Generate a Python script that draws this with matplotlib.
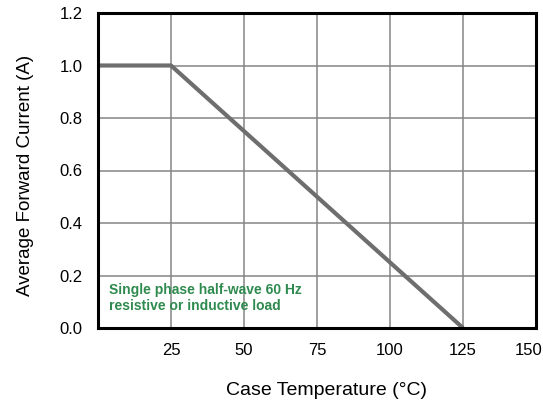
import numpy as np
import matplotlib.pyplot as plt
from matplotlib.transforms import ScaledTranslation

plt.rcParams['font.family'] = ['Liberation Sans', 'DejaVu Sans']

# curva de derating
temp = [0, 25, 125]
current = [1.0, 1.0, 0.0]

x_ticks = [25, 50, 75, 100, 125, 150]
y_ticks = [0.0, 0.2, 0.4, 0.6, 0.8, 1.0, 1.2]

fig = plt.figure(figsize=(5.43, 4.07), dpi=100)
ax = fig.add_axes([98 / 543, 79 / 407, 438 / 543, 315 / 407])

ax.plot(temp, current, color='#6e6e6e', linewidth=3.0, solid_capstyle='butt', zorder=3)

ax.set_xlim(0, 150)
ax.set_ylim(0, 1.2)
ax.set_xticks(x_ticks)
ax.set_xticklabels([str(t) for t in x_ticks])
ax.set_yticks(y_ticks)
ax.set_yticklabels([f"{v:.1f}" for v in y_ticks])
ax.tick_params(length=0, labelsize=12, pad=11, colors='black')
ax.grid(True, color='#858585', linewidth=1.1)
for s in ax.spines.values():
    s.set_linewidth(2.2)
    s.set_color('black')
    s.set_zorder(4)

# o rótulo 150 fica encostado na borda direita
last = ax.get_xticklabels()[-1]
last.set_horizontalalignment('right')
last.set_transform(last.get_transform() + ScaledTranslation(6 / 100, 0, fig.dpi_scale_trans))

ax.set_xlabel("Case Temperature (°C)", fontsize=14)
ax.xaxis.set_label_coords(0.522, -0.171)
ax.set_ylabel("Average Forward Current (A)", fontsize=13.5)
ax.yaxis.set_label_coords(-0.146, 0.483)

ax.text(3.8, 0.170, "Single phase half-wave 60 Hz\nresistive or inductive load",
        color='#2e8a4e', fontsize=10, fontweight='bold', va='top', ha='left',
        linespacing=1.15)

fig.savefig("out.png", dpi=100)
